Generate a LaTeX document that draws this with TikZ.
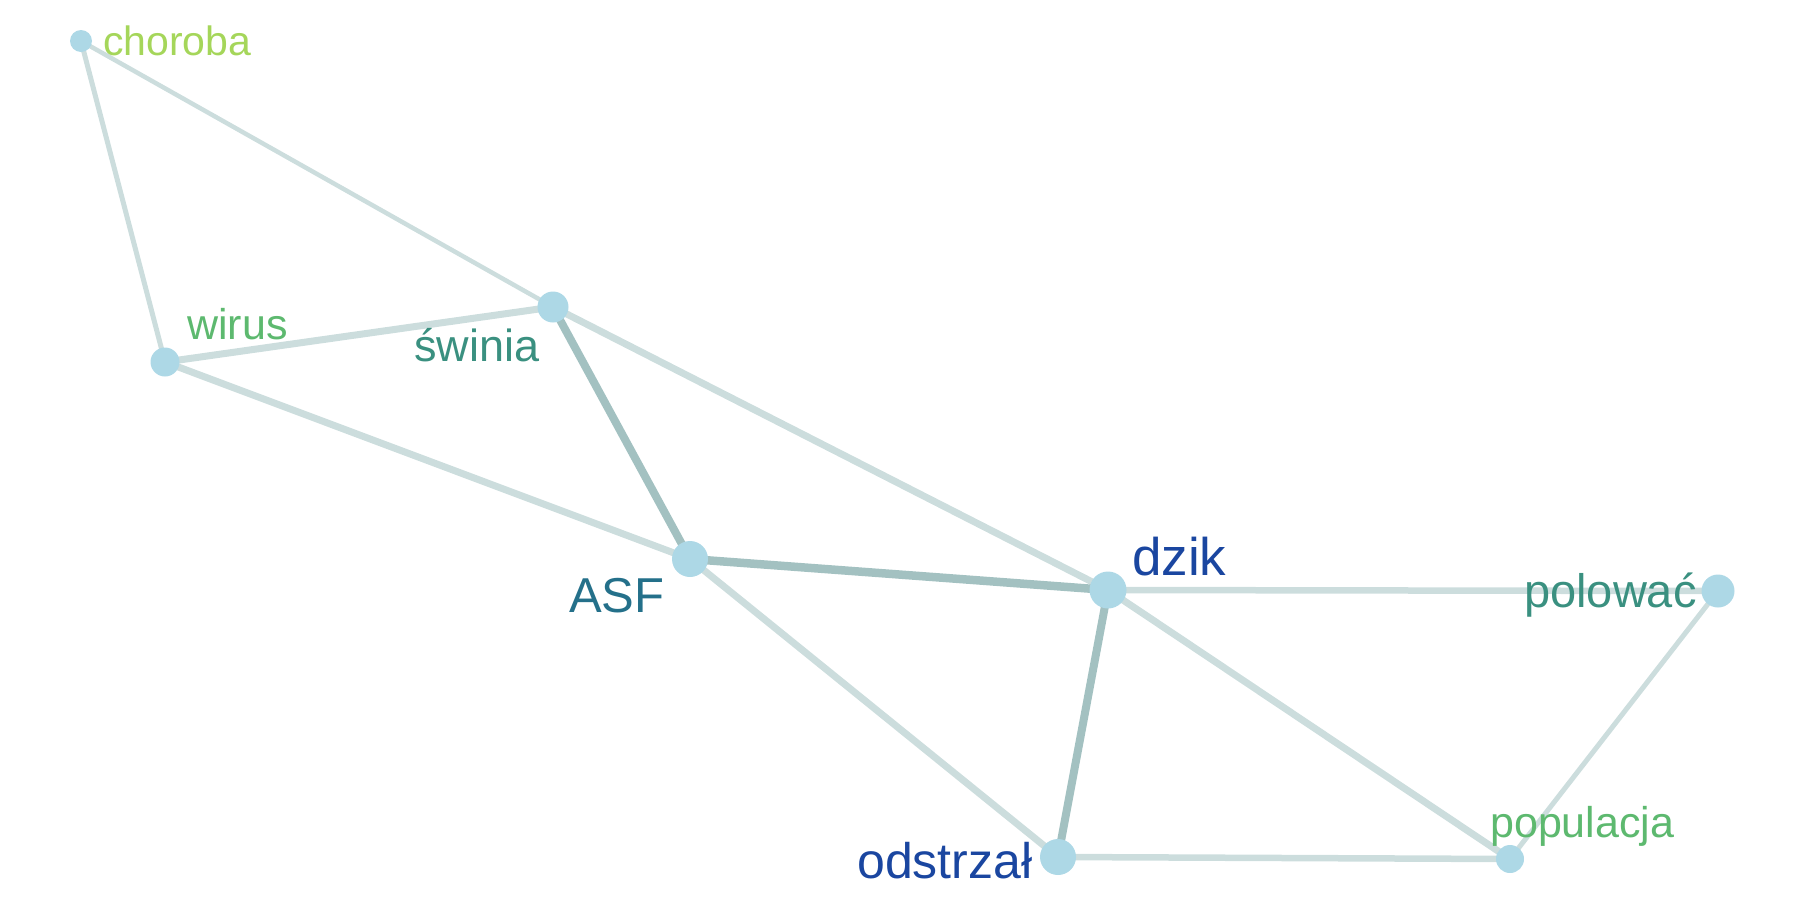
\documentclass[tikz,border=0pt]{standalone}
\usepackage{fontspec}
\setmainfont{Liberation Sans}
\usetikzlibrary{backgrounds}
\definecolor{nodefill}{HTML}{ADD8E6}
\definecolor{edgelight}{HTML}{CCDDDD}
\definecolor{edgedark}{HTML}{A3C1C1}
\definecolor{cChoroba}{HTML}{A5D65A}
\definecolor{cGreen}{HTML}{5DB96F}
\definecolor{cTeal}{HTML}{3A9080}
\definecolor{cAsf}{HTML}{24708A}
\definecolor{cBlue}{HTML}{1A46A0}
\tikzset{
  vert/.style={circle, fill=nodefill, inner sep=0pt, minimum size=#1},
  lbl/.style={anchor=base west, inner sep=0pt, font=\fontsize{#1}{#1}\selectfont},
  elight/.style={draw=edgelight, line width=#1},
  edark/.style={draw=edgedark, line width=#1},
}
\begin{document}
\begin{tikzpicture}[x=1pt,y=-1pt]
\useasboundingbox (0,0) rectangle (1800,900);
% vertices
\node[vert=22] (choroba) at (81,41) {};
\node[vert=29] (wirus) at (165,362) {};
\node[vert=31] (swinia) at (553,307) {};
\node[vert=36] (asf) at (690,559) {};
\node[vert=37] (dzik) at (1108,590) {};
\node[vert=33] (polowac) at (1718,591) {};
\node[vert=36] (odstrzal) at (1058,857) {};
\node[vert=28] (populacja) at (1510,859) {};
% edges
\begin{scope}[on background layer]
\draw[elight=5] (choroba.center) -- (wirus.center);
\draw[elight=4.5] (choroba.center) -- (swinia.center);
\draw[elight=7] (wirus.center) -- (swinia.center);
\draw[elight=7] (wirus.center) -- (asf.center);
\draw[edark=8] (swinia.center) -- (asf.center);
\draw[elight=7] (swinia.center) -- (dzik.center);
\draw[edark=8.5] (asf.center) -- (dzik.center);
\draw[elight=7] (asf.center) -- (odstrzal.center);
\draw[elight=6.5] (dzik.center) -- (polowac.center);
\draw[edark=8] (dzik.center) -- (odstrzal.center);
\draw[elight=7] (dzik.center) -- (populacja.center);
\draw[elight=6.5] (odstrzal.center) -- (populacja.center);
\draw[elight=5] (polowac.center) -- (populacja.center);
\end{scope}
% labels
\node[lbl=41, text=cChoroba] (tchoroba) at (103,55) {choroba};
\node[lbl=43, text=cGreen] (twirus) at (187,339) {wirus};
\node[lbl=45, text=cTeal] (tswinia) at (414,361) {świnia};
\node[lbl=49, text=cAsf] (tasf) at (569,612) {ASF};
\node[lbl=53, text=cBlue] (tdzik) at (1132,575) {dzik};
\node[lbl=47, text=cTeal] (tpolowac) at (1524,607) {polować};
\node[lbl=50, text=cBlue] (todstrzal) at (857,878) {odstrzał};
\node[lbl=43, text=cGreen] (tpopulacja) at (1490,837) {populacja};
\end{tikzpicture}
\end{document}
